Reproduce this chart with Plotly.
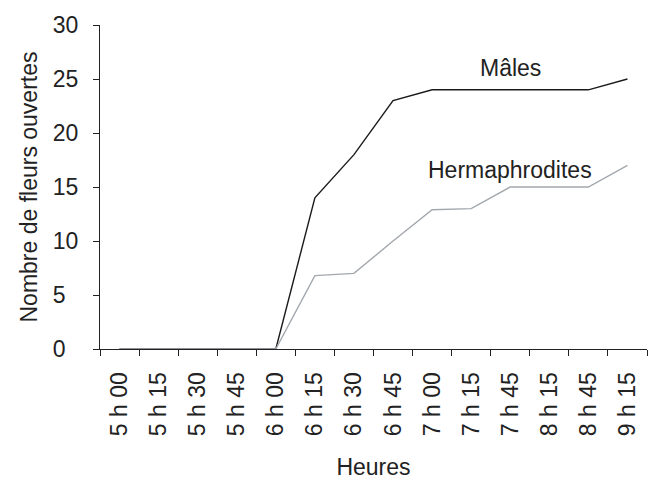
import plotly.graph_objects as go

heures = ["5 h 00", "5 h 15", "5 h 30", "5 h 45", "6 h 00", "6 h 15", "6 h 30",
          "6 h 45", "7 h 00", "7 h 15", "7 h 45", "8 h 15", "8 h 45", "9 h 15"]
males = [0, 0, 0, 0, 0, 14, 18, 23, 24, 24, 24, 24, 24, 25]
hermaphrodites = [0, 0, 0, 0, 0, 6.8, 7, 10, 12.9, 13, 15, 15, 15, 17]
y_ticks = [0, 5, 10, 15, 20, 25, 30]
# left-aligned tick labels as in the reference (figure space pads single digits)
y_ticktext = [str(v) + ("\u2007" if v < 10 else "") for v in y_ticks]

font = "Liberation Sans, Arial, sans-serif"

fig = go.Figure()
fig.add_trace(go.Scatter(x=heures, y=males, mode="lines", name="Mâles",
                         line=dict(color="#1a1a1a", width=1.4)))
fig.add_trace(go.Scatter(x=heures, y=hermaphrodites, mode="lines", name="Hermaphrodites",
                         line=dict(color="#a3a8ae", width=1.4)))

fig.add_annotation(x="7 h 45", y=26, text="Mâles", showarrow=False,
                   font=dict(family=font, size=23, color="#222"))
fig.add_annotation(x="7 h 45", y=16.6, text="Hermaphrodites", showarrow=False,
                   font=dict(family=font, size=23, color="#222"))

fig.update_layout(
    width=648, height=472,
    margin=dict(l=92, r=9, t=17, b=131),
    paper_bgcolor="white", plot_bgcolor="white",
    showlegend=False,
    font=dict(family=font, size=23, color="#222"),
    xaxis=dict(type="category", tickson="boundaries", range=[-0.5, 13.5],
               automargin=False,
               showline=True, linecolor="#222", linewidth=1,
               ticks="outside", ticklen=6, tickcolor="#222",
               tickangle=-90, ticklabelstandoff=13,
               tickfont=dict(family=font, size=23),
               showgrid=False, zeroline=False,
               title=dict(text="Heures", standoff=27,
                          font=dict(family=font, size=23))),
    yaxis=dict(range=[0, 30], tickvals=y_ticks, ticktext=y_ticktext,
               automargin=False,
               showline=True, linecolor="#222", linewidth=1,
               ticks="outside", ticklen=6, tickcolor="#222",
               ticklabelstandoff=10,
               tickfont=dict(family=font, size=23),
               showgrid=False, zeroline=False,
               title=dict(text="Nombre de fleurs ouvertes", standoff=8,
                          font=dict(family=font, size=23))),
)

fig.write_html("out.html")
